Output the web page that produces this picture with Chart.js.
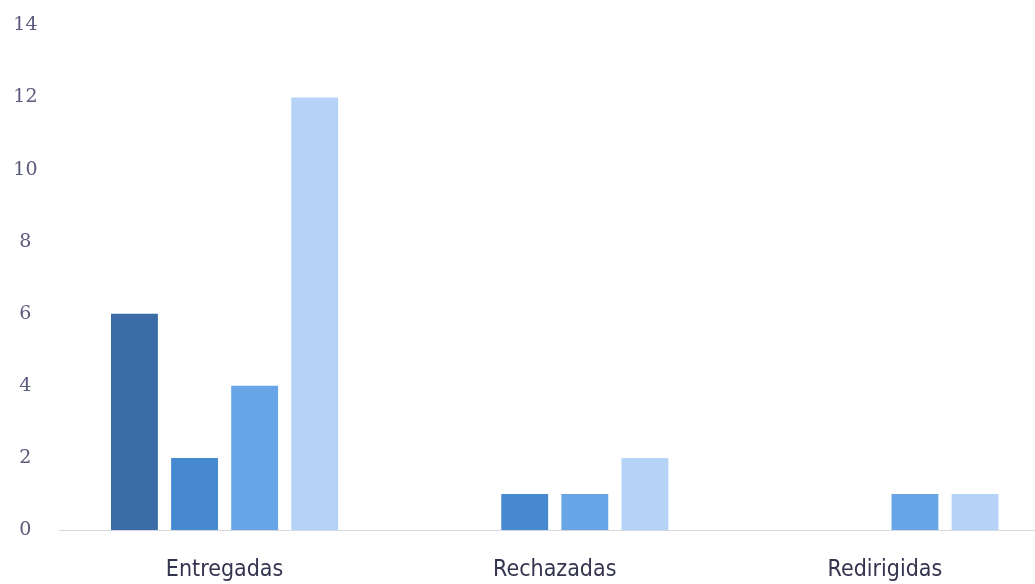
<!DOCTYPE html>
<html>
<head>
<meta charset="utf-8">
<script src="https://cdn.jsdelivr.net/npm/chart.js@4/dist/chart.umd.min.js"></script>
<style>
    html, body { margin: 0; padding: 0; background: #fff; overflow: hidden; }
    #wrap { width: 1050px; height: 584px; }
</style>
</head>
<body>
<div id="wrap"><canvas id="chart"></canvas></div>
<script>
// categorías y valores
const categories = ["Entregadas", "Rechazadas", "Redirigidas"];
const serie1 = [6, null, null];
const serie2 = [2, 1, null];
const serie3 = [4, 1, 1];
const serie4 = [12, 2, 1];
const yTicks = [0, 2, 4, 6, 8, 10, 12, 14];

const colors = ["#3b6ca6", "#4689d0", "#67a5e7", "#b4d3f7"];

function makeSet(data, i) {
    return {
        label: "Serie " + (i + 1),
        data: data,
        backgroundColor: colors[i],
        barPercentage: 0.78,
        categoryPercentage: 0.728,
    };
}

new Chart(document.querySelector("#chart"), {
    type: "bar",
    data: {
        labels: categories,
        datasets: [serie1, serie2, serie3, serie4].map(makeSet),
    },
    options: {
        animation: false,
        responsive: true,
        maintainAspectRatio: false,
        layout: { padding: { top: 23, right: 0, left: 0, bottom: 0 } },
        plugins: { legend: { display: false }, tooltip: { enabled: false } },
        scales: {
            x: {
                grid: { display: false },
                border: { display: true, color: "#d8d8e0", dash: [2, 3], width: 1 },
                ticks: {
                    color: "#34344f",
                    font: { family: "DejaVu Sans Condensed", size: 23 },
                    padding: 18,
                },
                afterFit: s => { s.height = 54; },
            },
            y: {
                min: 0,
                max: 14,
                afterBuildTicks: s => { s.ticks = yTicks.map(v => ({ value: v })); },
                grid: { display: false },
                border: { display: false },
                ticks: {
                    color: "#5a5a7e",
                    font: { family: "DejaVu Serif", size: 19 },
                    crossAlign: "center",
                    padding: 14,
                },
                afterFit: s => { s.width = 59.5; },
            },
        },
    },
});
</script>
</body>
</html>
